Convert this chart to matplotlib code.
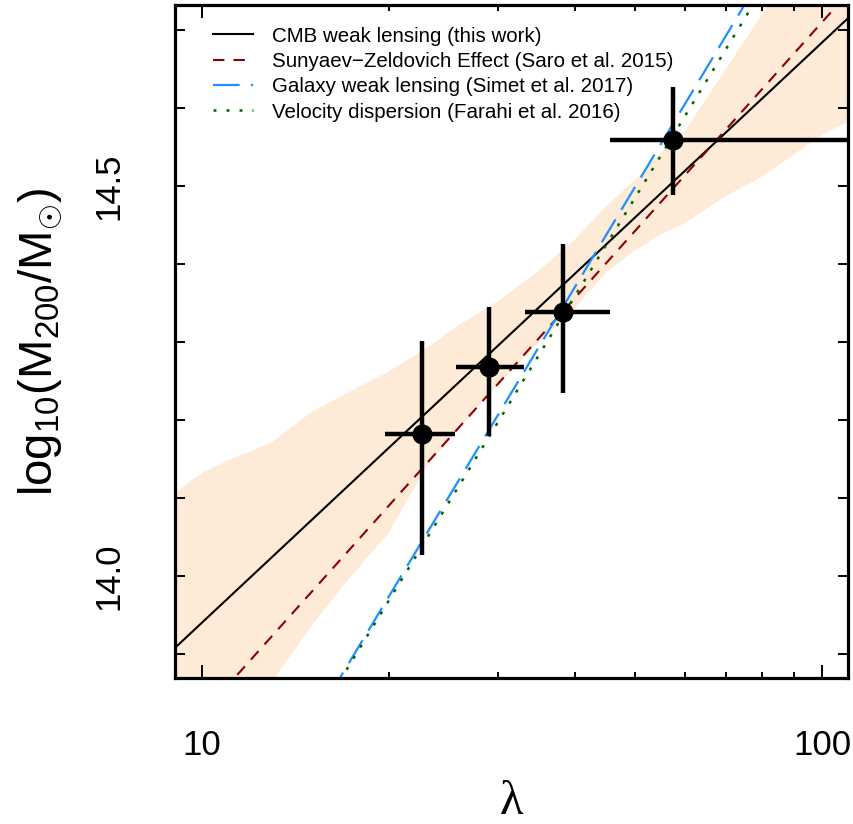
import numpy as np
import matplotlib
matplotlib.use("Agg")
import matplotlib.pyplot as plt
from matplotlib.ticker import LogLocator, NullFormatter

plt.rcParams['font.family'] = ['Liberation Sans', 'DejaVu Sans']
plt.rcParams['mathtext.fontset'] = 'custom'
plt.rcParams['mathtext.rm'] = 'Liberation Sans'
plt.rcParams['mathtext.it'] = 'Liberation Sans:italic'

# data points (richness bins)
lam = np.array([22.66, 29.07, 38.25, 57.43])
lam_lo = np.array([19.73, 25.69, 33.19, 45.5])
lam_hi = np.array([25.59, 33.06, 45.5, 140.0])
mass = np.array([14.182, 14.268, 14.338, 14.559])
mass_lo = np.array([14.027, 14.179, 14.234, 14.488])
mass_hi = np.array([14.301, 14.345, 14.425, 14.627])

# confidence band of the fit
band_lam = [9, 10, 11, 12, 13, 15, 17, 20, 23, 26, 30, 35, 40, 45, 50, 55, 60, 70, 80, 90, 100, 110]
band_up = [14.105, 14.132, 14.148, 14.160, 14.172, 14.210, 14.233, 14.262, 14.292, 14.322, 14.352,
           14.392, 14.432, 14.475, 14.508, 14.543, 14.570, 14.650, 14.72, 14.78, 14.84, 14.90]
band_dn = [13.69, 13.74, 13.785, 13.83, 13.866, 13.935, 13.99, 14.055, 14.14, 14.19, 14.245,
           14.30, 14.344, 14.39, 14.418, 14.438, 14.452, 14.487, 14.512, 14.540, 14.566, 14.582]

# mass-richness relations: M = norm + slope*log10(lambda/30)
pivot = 30.0
rel_labels = ["CMB weak lensing (this work)",
              "Sunyaev\u2212Zeldovich Effect (Saro et al. 2015)",
              "Galaxy weak lensing (Simet et al. 2017)",
              "Velocity dispersion (Farahi et al. 2016)"]
rel_norm = [14.295, 14.246, 14.206, 14.197]
rel_slope = [0.744, 0.8875, 1.323, 1.301]

fig = plt.figure(figsize=(8.54, 8.24), dpi=100)
ax = fig.add_axes([0.2049, 0.1772, 0.993 - 0.2049, 0.9939 - 0.1772])

ax.fill_between(band_lam, band_dn, band_up, color='#FDEBD8', lw=0, zorder=1)

xx = np.logspace(np.log10(8), np.log10(120), 200)
styles = [dict(color='black', lw=1.5, ls='-'),
          dict(color='#8B0000', lw=1.5, dashes=(5.5, 4.3)),
          dict(color='#1E90FF', lw=1.6, dashes=(12, 5)),
          dict(color='#006400', lw=1.8, dashes=(1.2, 4.0))]
for nm, a, b, st in zip(rel_labels, rel_norm, rel_slope, styles):
    ax.plot(xx, a + b * np.log10(xx / pivot), label=nm, zorder=2, **st)

ax.errorbar(lam, mass, xerr=[lam - lam_lo, lam_hi - lam], yerr=[mass - mass_lo, mass_hi - mass],
            fmt='o', color='black', ms=13.5, elinewidth=3.2, capsize=0, zorder=3)

ax.set_xscale('log')
ax.set_xlim(9.046, 110.1)
ax.set_ylim(13.869, 14.732)

ax.set_xticks([10, 100])
ax.set_xticklabels(['10', '100'])
ax.xaxis.set_minor_locator(LogLocator(subs=range(2, 10)))
ax.xaxis.set_minor_formatter(NullFormatter())

y_ticks = [13.9, 14.0, 14.1, 14.2, 14.3, 14.4, 14.5, 14.6, 14.7]
y_labels = ['', '14.0', '', '', '', '', '14.5', '', '']
ax.set_yticks(y_ticks)
ax.set_yticklabels(y_labels)

ax.tick_params(which='both', direction='in', top=True, right=True, width=1.4, labelsize=25, pad=37)
ax.tick_params(axis='x', which='major', length=9.5)
ax.tick_params(axis='x', which='minor', length=4)
ax.tick_params(axis='y', which='major', length=7)
ax.tick_params(axis='y', pad=36)
for t in ax.get_yticklabels():
    t.set_rotation(90)
    t.set_va('center')

for s in ax.spines.values():
    s.set_linewidth(2.3)

ax.set_xlabel('\u03bb', fontsize=35, family=['Liberation Serif', 'DejaVu Serif'])
ax.xaxis.label.set_va('center')
ax.xaxis.set_label_coords(0.5, -0.184)
ax.set_ylabel(r'log$_{10}$(M$_{200}$/M$_{\odot}$)', fontsize=34)
ax.yaxis.set_label_coords(-0.165, 0.5)

ax.legend(loc='upper left', bbox_to_anchor=(0.056, 0.968), frameon=False, fontsize=14.8,
          handlelength=1.95, handletextpad=0.95, labelspacing=0.31, borderpad=0, borderaxespad=0)

fig.savefig('out.png', dpi=100)
